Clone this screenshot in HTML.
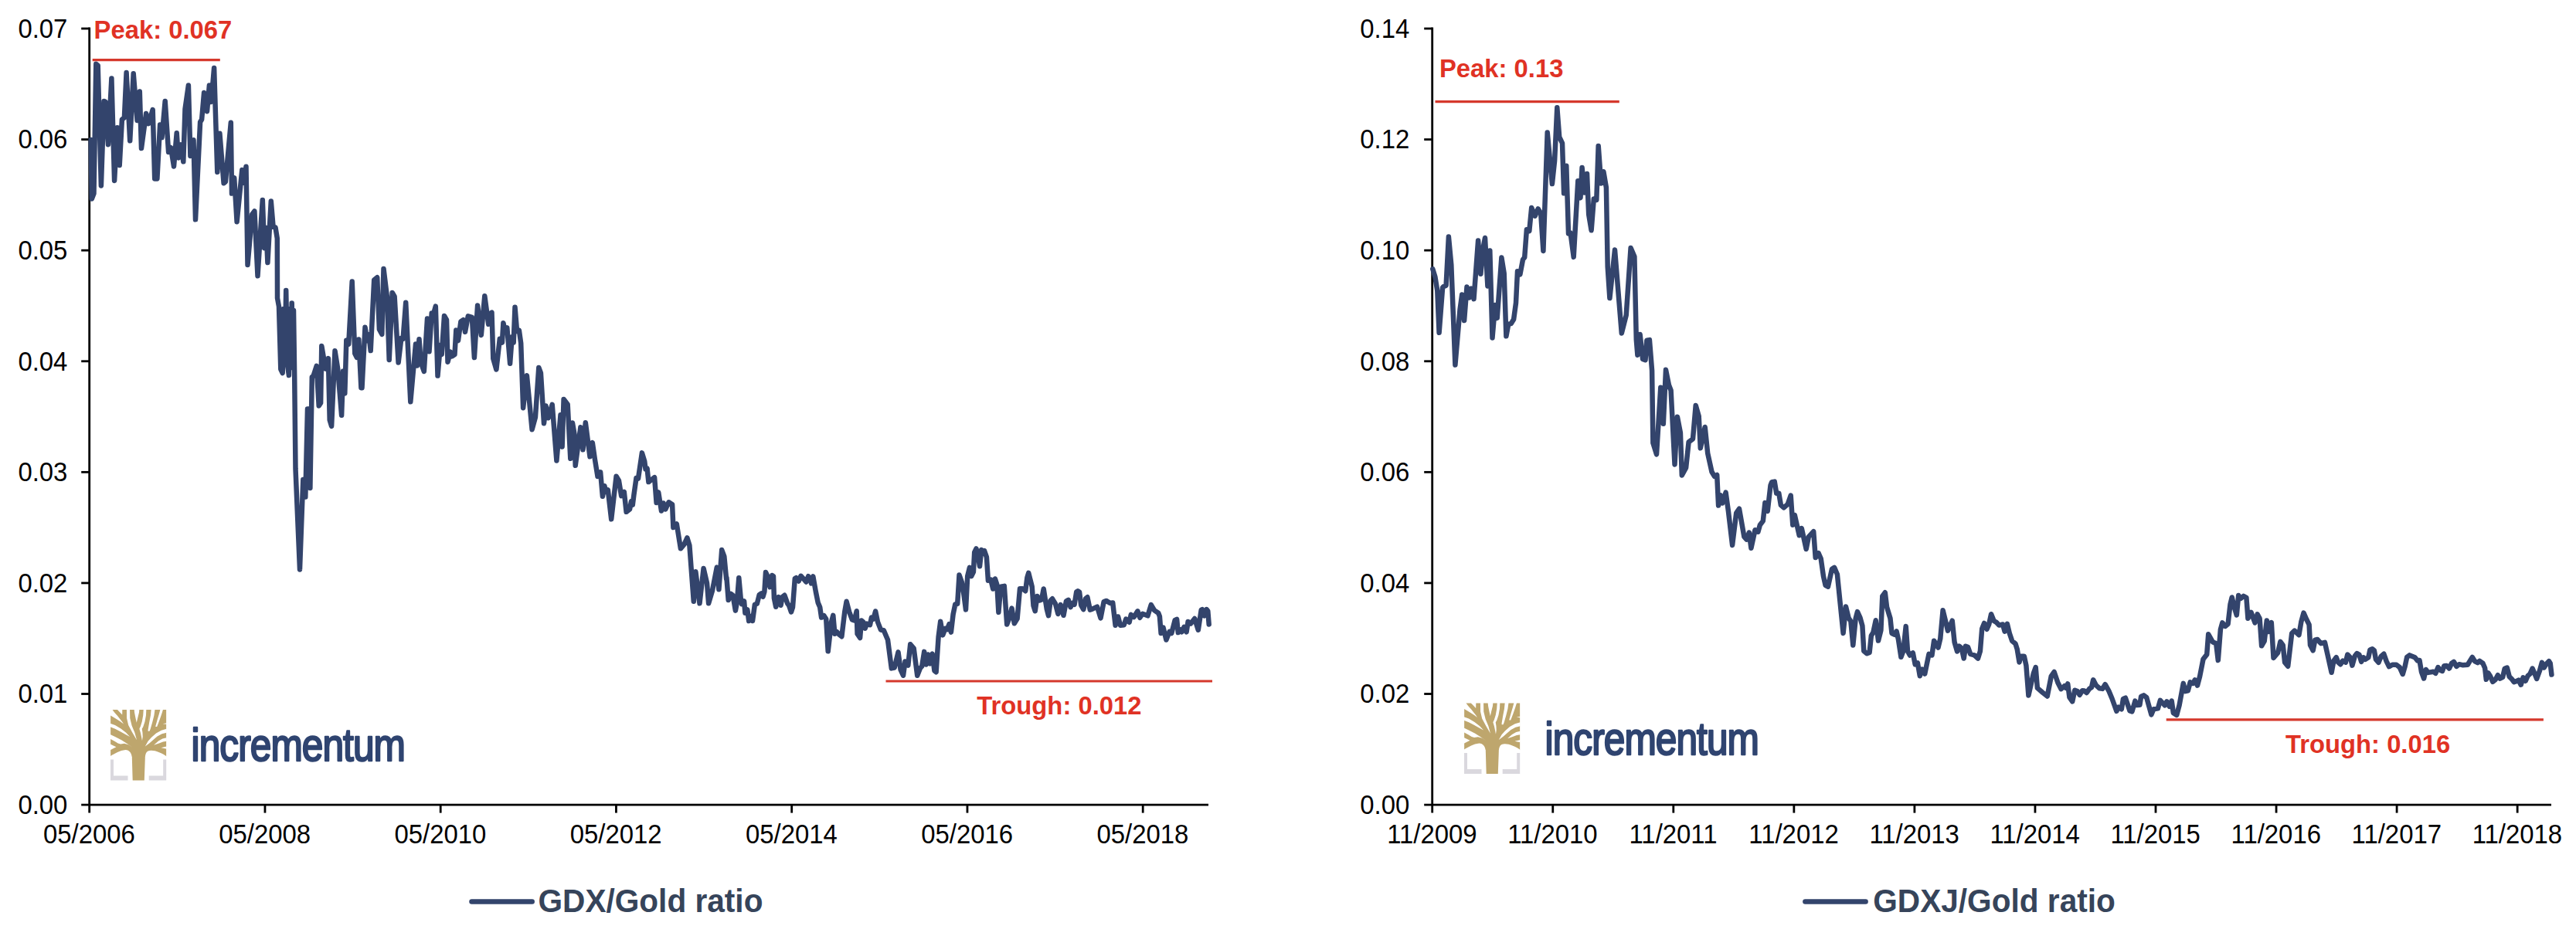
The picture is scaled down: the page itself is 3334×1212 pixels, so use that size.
<!DOCTYPE html>
<html lang="en"><head><meta charset="utf-8"><title>GDX/Gold and GDXJ/Gold ratio</title>
<style>html,body{margin:0;padding:0;background:#fff}body{width:3334px;height:1212px;overflow:hidden}svg{display:block}text{font-family:"Liberation Sans",sans-serif}</style>
</head><body>
<svg width="3334" height="1212" viewBox="0 0 3334 1212">
<rect width="3334" height="1212" fill="#fff"/>
<g stroke="#000" stroke-width="2.8" fill="none">
<path d="M115.7,35.6 V1052.6"/>
<path d="M105.2,1042.1 H1564"/>
<path d="M105.2,898.514 H115.7"/>
<path d="M105.2,754.929 H115.7"/>
<path d="M105.2,611.343 H115.7"/>
<path d="M105.2,467.757 H115.7"/>
<path d="M105.2,324.171 H115.7"/>
<path d="M105.2,180.586 H115.7"/>
<path d="M105.2,37 H115.7"/>
<path d="M342.95,1042.1 V1052.6"/>
<path d="M570.2,1042.1 V1052.6"/>
<path d="M797.45,1042.1 V1052.6"/>
<path d="M1024.7,1042.1 V1052.6"/>
<path d="M1251.95,1042.1 V1052.6"/>
<path d="M1479.2,1042.1 V1052.6"/>
</g>
<g font-size="32.9" fill="#000">
<text transform="translate(87.4,1054) scale(1,1.045)" text-anchor="end">0.00</text>
<text transform="translate(87.4,910.414) scale(1,1.045)" text-anchor="end">0.01</text>
<text transform="translate(87.4,766.829) scale(1,1.045)" text-anchor="end">0.02</text>
<text transform="translate(87.4,623.243) scale(1,1.045)" text-anchor="end">0.03</text>
<text transform="translate(87.4,479.657) scale(1,1.045)" text-anchor="end">0.04</text>
<text transform="translate(87.4,336.071) scale(1,1.045)" text-anchor="end">0.05</text>
<text transform="translate(87.4,192.486) scale(1,1.045)" text-anchor="end">0.06</text>
<text transform="translate(87.4,48.9) scale(1,1.045)" text-anchor="end">0.07</text>
<text transform="translate(115.4,1092.3) scale(1,1.04)" text-anchor="middle">05/2006</text>
<text transform="translate(342.65,1092.3) scale(1,1.04)" text-anchor="middle">05/2008</text>
<text transform="translate(569.9,1092.3) scale(1,1.04)" text-anchor="middle">05/2010</text>
<text transform="translate(797.15,1092.3) scale(1,1.04)" text-anchor="middle">05/2012</text>
<text transform="translate(1024.4,1092.3) scale(1,1.04)" text-anchor="middle">05/2014</text>
<text transform="translate(1251.65,1092.3) scale(1,1.04)" text-anchor="middle">05/2016</text>
<text transform="translate(1478.9,1092.3) scale(1,1.04)" text-anchor="middle">05/2018</text>
</g>
<g stroke="#000" stroke-width="2.8" fill="none">
<path d="M1853.7,35.6 V1052.6"/>
<path d="M1843.2,1042.1 H3302"/>
<path d="M1843.2,898.514 H1853.7"/>
<path d="M1843.2,754.929 H1853.7"/>
<path d="M1843.2,611.343 H1853.7"/>
<path d="M1843.2,467.757 H1853.7"/>
<path d="M1843.2,324.171 H1853.7"/>
<path d="M1843.2,180.586 H1853.7"/>
<path d="M1843.2,37 H1853.7"/>
<path d="M2009.75,1042.1 V1052.6"/>
<path d="M2165.8,1042.1 V1052.6"/>
<path d="M2321.85,1042.1 V1052.6"/>
<path d="M2477.9,1042.1 V1052.6"/>
<path d="M2633.95,1042.1 V1052.6"/>
<path d="M2790,1042.1 V1052.6"/>
<path d="M2946.05,1042.1 V1052.6"/>
<path d="M3102.1,1042.1 V1052.6"/>
<path d="M3258.15,1042.1 V1052.6"/>
</g>
<g font-size="32.9" fill="#000">
<text transform="translate(1824.3,1054) scale(1,1.045)" text-anchor="end">0.00</text>
<text transform="translate(1824.3,910.414) scale(1,1.045)" text-anchor="end">0.02</text>
<text transform="translate(1824.3,766.829) scale(1,1.045)" text-anchor="end">0.04</text>
<text transform="translate(1824.3,623.243) scale(1,1.045)" text-anchor="end">0.06</text>
<text transform="translate(1824.3,479.657) scale(1,1.045)" text-anchor="end">0.08</text>
<text transform="translate(1824.3,336.071) scale(1,1.045)" text-anchor="end">0.10</text>
<text transform="translate(1824.3,192.486) scale(1,1.045)" text-anchor="end">0.12</text>
<text transform="translate(1824.3,48.9) scale(1,1.045)" text-anchor="end">0.14</text>
<text transform="translate(1853.4,1092.3) scale(1,1.04)" text-anchor="middle">11/2009</text>
<text transform="translate(2009.45,1092.3) scale(1,1.04)" text-anchor="middle">11/2010</text>
<text transform="translate(2165.5,1092.3) scale(1,1.04)" text-anchor="middle">11/2011</text>
<text transform="translate(2321.55,1092.3) scale(1,1.04)" text-anchor="middle">11/2012</text>
<text transform="translate(2477.6,1092.3) scale(1,1.04)" text-anchor="middle">11/2013</text>
<text transform="translate(2633.65,1092.3) scale(1,1.04)" text-anchor="middle">11/2014</text>
<text transform="translate(2789.7,1092.3) scale(1,1.04)" text-anchor="middle">11/2015</text>
<text transform="translate(2945.75,1092.3) scale(1,1.04)" text-anchor="middle">11/2016</text>
<text transform="translate(3101.8,1092.3) scale(1,1.04)" text-anchor="middle">11/2017</text>
<text transform="translate(3257.85,1092.3) scale(1,1.04)" text-anchor="middle">11/2018</text>
</g>
<g transform="translate(0,0)">
<path d="M143,983.5v27h22.5v-6h-18.5v-21z" fill="#dad8de"/>
<path d="M215.2,983.5v27h-22.5v-6h18.5v-21z" fill="#dad8de"/>
<g transform="translate(140,915) scale(0.074766)">
<path d="M42,52H1005V870H640C636,1000 630,1150 626,1277H424C420,1150 416,1000 412,870H42Z" fill="#bea66d"/>
<g fill="#fff">
<path d="M35,40H75V52C120,120 200,190 268,300C200,250 120,195 35,150Z"/>
<path d="M160,45H245V52L243,140L160,52Z"/>
<path d="M320,45H375L378,200L410,330L460,450L495,578L420,450L350,320L322,200Z"/>
<path d="M450,45H540L535,100L510,200L492,278L475,200L455,100Z"/>
<path d="M612,45H660L655,150L635,260L605,350L585,385L595,450L598,520L588,592L575,520L560,450L540,385L560,340L585,260L605,150Z"/>
<path d="M745,45H810L795,150L765,270L730,390L715,425H690V400L710,280L735,150Z"/>
<path d="M903,45H952L925,130L890,230L860,310L845,348H820L822,330L850,230L880,130Z"/>
<path d="M1012,283V303L945,297Z"/>
<path d="M1012,385V450L930,470L850,515L780,575L720,630L640,688L690,600L750,530L830,460L920,410Z"/>
<path d="M1012,540V600L950,610L880,635L790,665L870,595L940,555Z"/>
<path d="M1012,690V732L915,712Z"/>
<path d="M1012,875V862C900,790 780,740 690,768C655,785 642,830 640,875Z"/>
<path d="M35,290V350L120,385L210,430L300,480L375,522L310,450L220,380L120,320Z"/>
<path d="M35,480V560L110,600L170,635L215,650L280,640L350,660L420,705L340,650L230,580L120,520Z"/>
<path d="M35,650V752L140,700Z"/>
<path d="M35,875V860C120,810 200,760 300,750C370,755 400,800 412,875Z"/>
</g>
</g>

<text x="0" y="0" transform="translate(247.6,985.4) scale(0.848,1)" font-size="58.5" fill="#2f4470" stroke="#2f4470" stroke-width="2.4" stroke-linejoin="round" letter-spacing="-1.1">incrementum</text>
</g>
<g transform="translate(1752,-8.5)">
<path d="M143,983.5v27h22.5v-6h-18.5v-21z" fill="#dad8de"/>
<path d="M215.2,983.5v27h-22.5v-6h18.5v-21z" fill="#dad8de"/>
<g transform="translate(140,915) scale(0.074766)">
<path d="M42,52H1005V870H640C636,1000 630,1150 626,1277H424C420,1150 416,1000 412,870H42Z" fill="#bea66d"/>
<g fill="#fff">
<path d="M35,40H75V52C120,120 200,190 268,300C200,250 120,195 35,150Z"/>
<path d="M160,45H245V52L243,140L160,52Z"/>
<path d="M320,45H375L378,200L410,330L460,450L495,578L420,450L350,320L322,200Z"/>
<path d="M450,45H540L535,100L510,200L492,278L475,200L455,100Z"/>
<path d="M612,45H660L655,150L635,260L605,350L585,385L595,450L598,520L588,592L575,520L560,450L540,385L560,340L585,260L605,150Z"/>
<path d="M745,45H810L795,150L765,270L730,390L715,425H690V400L710,280L735,150Z"/>
<path d="M903,45H952L925,130L890,230L860,310L845,348H820L822,330L850,230L880,130Z"/>
<path d="M1012,283V303L945,297Z"/>
<path d="M1012,385V450L930,470L850,515L780,575L720,630L640,688L690,600L750,530L830,460L920,410Z"/>
<path d="M1012,540V600L950,610L880,635L790,665L870,595L940,555Z"/>
<path d="M1012,690V732L915,712Z"/>
<path d="M1012,875V862C900,790 780,740 690,768C655,785 642,830 640,875Z"/>
<path d="M35,290V350L120,385L210,430L300,480L375,522L310,450L220,380L120,320Z"/>
<path d="M35,480V560L110,600L170,635L215,650L280,640L350,660L420,705L340,650L230,580L120,520Z"/>
<path d="M35,650V752L140,700Z"/>
<path d="M35,875V860C120,810 200,760 300,750C370,755 400,800 412,875Z"/>
</g>
</g>

<text x="0" y="0" transform="translate(247.6,985.4) scale(0.848,1)" font-size="58.5" fill="#2f4470" stroke="#2f4470" stroke-width="2.4" stroke-linejoin="round" letter-spacing="-1.1">incrementum</text>
</g>
<g fill="none" stroke="#33446c" stroke-width="6.5" stroke-linejoin="round" stroke-linecap="round">
<polyline points="117.6,181.1 118.8,257.5 121.5,250.6 124.3,82.8 126.7,84.7 130.9,240.5 134.6,130.9 136.5,131.9 140,187.2 144.4,101.4 148.1,233.9 151.8,165.3 154.7,214 157.9,154.8 160.9,152.3 163.6,94.1 168.2,182.3 172.7,95.3 177.6,156 180.8,118.6 183,192.1 189.1,146.9 192.3,160.2 197.7,142 200.2,231.4 203.4,231.4 207.1,161.6 209.5,178.1 213.7,130.9 218.1,197 221.1,191.1 225,215.5 228.7,172.2 230.9,204.4 234.1,187.4 237.3,209.3 239.5,141.3 243.9,110.5 246.4,201.9 250.5,181.3 253,284.3 259.1,158 261.1,154.8 264.1,119.9 268,144.2 270.9,110.5 273.4,131.9 277.1,87.9 281.3,222.8 284.4,172.7 289.6,237.3 291.9,235.3 298.8,158.8 300,250.6 303.2,230.1 306.6,287.2 313.3,220 315.3,236.7 318.5,215.7 320.5,342.9 326.2,277.7 329.4,273.4 333.5,357.3 339.8,258.9 342.1,321.2 344.4,295 346.4,340 350.8,260.4 353.6,293.8 356.5,294.4 358.8,308.8 359,386 361,397 363.3,478 365.7,483 367,400 368.5,472 370.2,376 372,472 373.9,486 375.4,400 376.6,476 377.7,392.4 379.2,472 380,402 381.2,487 382.5,607 388,737.4 392.3,621 395.3,643.6 398,529.5 399.8,529.5 401.4,632 403.8,488 405.5,487 409.7,473.9 412.7,525.5 415.1,521.8 416.3,448.1 421.3,477.6 424.9,464.1 426.7,543.9 429.1,551.8 433.5,454.3 437.2,477.6 442.1,537.8 444.1,480.5 446.3,509.5 448.3,440.7 451.2,445.7 455.7,364.6 459.3,457.9 461.8,462.9 464.3,439.5 467.4,502.2 468.5,502.3 472.5,423.8 475.2,441.1 477.4,433.2 479.7,454.1 484.2,362.5 488.2,359.2 490.9,426.5 494.3,432.8 496.5,347.9 501,385 503.7,466 507.7,378.9 510.6,383.8 515.6,469.6 519.4,437.7 521.6,438.8 525.2,391.7 531.3,520.3 538,445.5 539.8,473.6 542.5,439.3 544.7,469.1 548.8,481 553,412.6 555.5,455.2 558.7,405.6 560.5,408.5 563.8,396.6 566.5,486.6 569.9,446.7 571.7,459 575,409 578,414.1 579.5,468.7 582.9,455.6 585.1,461.3 588.5,459 590.3,427.6 593,441.1 596.4,416.4 599.7,414.1 602,429.8 605.8,409.4 610.9,410.8 613.9,463 618.1,395.5 622.8,433.9 627.3,383.2 632.2,419.7 634.2,406.4 636.5,404.6 638.3,464.4 642.4,478.5 646.8,438.7 649.9,443.6 651.4,418.2 653.7,429 656.3,424.4 660.1,470.8 662.7,436.2 664.7,443.6 666.5,397.7 669.1,429 671.9,427.9 674.2,444.4 677.1,528.2 681.9,486.2 688.6,556.2 692.9,540.5 697.3,475.9 699.9,482.8 704,548.2 706.5,525.6 709.6,541.3 714.7,523.8 720.4,596.4 725.5,537.2 727.6,578.5 729.6,516.9 734.7,523.8 738.3,593.8 740.9,547.4 743.5,562.3 744.7,602.8 751.4,553.3 754.5,582.3 757.8,547.2 763.5,591.3 766.8,573.1 769.9,594.6 773.5,616.9 777.1,611.3 779.9,642.8 782.4,629.2 784.2,636.9 786.8,634.4 791.2,672.3 797.6,616.7 800.9,622.1 804.2,642.1 807.8,636.9 810.6,662.8 815,659.5 817.1,649 818.8,653.8 820.4,640.8 823.5,619 826,619.7 830.9,586.4 834.2,597.2 835.5,607.4 837.6,606.7 839.4,624.1 842.7,621.5 847.1,618.2 849.6,651 852.2,637.4 856,661.5 858.6,651.5 861.2,659.5 865.5,650.3 870.1,653.3 871.4,683.1 875.8,678.5 880.9,710.3 885.5,704.9 889.4,696.4 892.4,706.2 897.8,778.7 900.4,740.3 905.5,781.3 910.6,735.9 915,754.9 917.1,781.3 921.9,765.1 927.8,734.6 930.4,763.3 934.2,712.1 937.3,720.3 940.1,749.7 940.4,747.7 942.7,777.1 945.8,768.8 948.5,770.8 951.9,790.6 953.8,780.4 956.3,748.3 958.7,774.6 960,782.3 963.1,778.5 964.4,793.8 967.3,789.4 969.2,804 972.1,798.1 974,804 976.9,782.7 979.8,781.7 982.7,770.2 985.6,768.3 987.5,772.7 989.4,766 991,741 993.3,745.8 996.5,760.2 999.2,745 1001,746.2 1001.9,774.6 1004.2,785.8 1007.7,773.1 1010.6,783.8 1012.5,773.1 1015.4,770.8 1019.2,781.3 1021.2,784.2 1024,792.5 1026,786.2 1028.8,749.2 1030.4,748.1 1033.7,752.5 1036.5,745.8 1040.4,750 1043.3,753.5 1046.2,746.2 1049,751.5 1050,755.4 1052.3,746.3 1055.8,766 1058.7,780.4 1061.2,786.2 1063.1,799.6 1066.3,797.1 1069.2,801.5 1071.7,843.3 1076,805.4 1078.3,796.9 1080.4,820.8 1083.1,818.3 1086.2,821.7 1089.4,824.2 1093.3,791.9 1095.6,778.7 1099,791.9 1102.9,802.5 1105.8,803.5 1108.7,791.2 1109.6,820.8 1113.1,826 1115,803.5 1117.3,805.4 1119.6,813.7 1122.1,807.7 1126,809.2 1127.9,799.6 1130.4,801.5 1133.1,791.5 1136,805.4 1140,815.6 1143.8,816.3 1149,828.5 1153.8,865.4 1157.7,864.6 1162.5,844.4 1165.6,867.2 1169,874.7 1171.5,856.5 1175.3,861.6 1178.2,834.3 1182.7,839.7 1185.4,860.5 1187.2,874.7 1191,865 1193.2,862.8 1196.2,843.9 1198.8,860.5 1201.1,847.5 1203.8,859.4 1206.7,846.6 1209.4,868.4 1211.6,870.2 1214.6,824.6 1217.2,804.7 1220.2,822.4 1223.5,813.9 1225.8,815 1228.5,808.2 1230.9,818.6 1233.6,795.5 1236.3,782.4 1239.2,782 1241.5,744.5 1244.8,753.9 1247.1,767.4 1250,789.4 1252.2,746.1 1254.9,734.9 1257.2,746.1 1259.9,740.5 1261.2,715.1 1263.5,710.4 1266.2,722.5 1268,733.3 1270.2,712 1272,715.1 1274,713.1 1276.9,721.4 1278.9,751.7 1282.3,750.6 1285.2,762.5 1287.9,749.5 1290.4,757.3 1292.4,792.8 1295.3,759.6 1299.8,758.9 1303.2,808.5 1306.5,799.9 1309.5,787.6 1312.8,807.3 1316.6,801.1 1320,762.2 1323.4,762.2 1327.2,765.2 1329.4,747.9 1331.2,741.8 1335.7,759.6 1337.5,784.2 1339.7,791.2 1342.4,771.9 1345.4,777.5 1348.1,776.4 1350.7,762.5 1354.8,788.7 1357,797.2 1359.7,777.5 1362,775.3 1366,782 1369.4,795 1372.7,783.1 1376.5,796.8 1379.9,778.6 1382.8,776.8 1385.5,786.2 1388.1,781 1390.6,782.7 1393.2,766.5 1394.9,765.3 1397.1,766.8 1399.2,783.6 1402.3,789.2 1405.2,775 1407.4,773.3 1410.8,789.6 1413.7,788.7 1420,785.6 1424.5,800.3 1428.6,779.3 1431.7,777.9 1436.8,781 1440.2,780.5 1443.6,809.7 1445.3,799 1447.1,798.5 1450,809.7 1454.7,809.2 1457.3,801.5 1461.6,805.8 1463.8,795.9 1467.6,799 1472.4,791.3 1475.3,799.8 1478.7,794.7 1485.5,797.3 1489.8,783.2 1494.1,790.4 1499.2,793.8 1500.9,798.1 1502.6,820 1505.5,812.6 1509.4,828.5 1513.7,817.8 1516.3,820 1520.6,803.2 1523.1,801.9 1524.8,819.1 1527.4,815.2 1529.4,818.3 1532.5,811.8 1535.6,818.3 1537.6,805 1541.1,807.5 1546.2,801 1550.8,815.7 1554.7,789.9 1556.1,789.1 1558.7,797.3 1561.6,789.1 1563.3,791.3 1564.7,808.4"/>
<polyline points="1854.3,348.4 1857.4,358.5 1860.3,376.5 1862.6,430.8 1867.1,372.4 1868.6,370.9 1871.6,369.7 1874.9,306.5 1878.3,342.8 1883.4,472.5 1889.5,401.2 1892.2,381.4 1895.1,415.1 1898.5,371.5 1901.4,385.5 1904.1,373.6 1907.5,387.2 1913.1,311.6 1916.4,354.7 1919.3,322.6 1922,308 1925.4,370.4 1928.3,324.4 1931.5,437.5 1935.1,394.9 1937.7,411.9 1943.4,333.4 1946.7,354 1949.4,435.3 1952.3,419.6 1955.7,419.1 1959.1,413.5 1962,392.2 1964,351.3 1967.4,355.2 1971,336.1 1973.2,333.2 1975.9,297.3 1979.3,299.1 1982.2,269 1986.7,279.7 1990.7,270.4 1994.2,276.2 1997.4,324.9 2002.7,171.5 2008.9,238.1 2012.1,208.1 2015.3,139.2 2018.2,177.4 2022,185.4 2024.1,250.3 2027.3,214.8 2030,302.4 2032.6,301.6 2036.7,332.9 2042.3,234.3 2045.5,256.2 2047.6,217 2050.8,249.5 2054,225 2056.2,277.6 2059.6,298.2 2062.8,257.6 2066.3,258.9 2068.7,188.9 2072.2,237.5 2075.4,222.3 2078.9,242.9 2080.7,345.5 2083.4,386.1 2090,323.6 2098.8,431.5 2104.7,408.3 2110.6,321 2115.4,332.2 2117.8,440.1 2119.4,459.8 2122.6,432.9 2126.1,464.9 2129.5,466.2 2131.4,440.6 2134.9,440.1 2138.1,480.1 2139.4,573.6 2144,588.3 2149.3,501.8 2152.8,548.8 2156,478.8 2160,498.8 2162.6,505.5 2167.5,601.4 2170.9,539.7 2174.9,560.3 2176.8,615.5 2182.1,605.7 2185.6,572.3 2191,568.3 2194.7,525 2198.7,538.9 2200.8,580.3 2206.7,553 2210.2,587 2215.5,611 2219,616.9 2222.2,615 2224.1,654.6 2226.7,641.3 2229.2,651.5 2233.6,637.7 2236.9,661.8 2242.1,705.9 2247.2,664.4 2251,658.7 2257.4,695.1 2260.5,698.5 2263.8,689.5 2266.4,709.7 2271.5,686.2 2275.4,688.7 2277.9,679.7 2281.8,674.6 2284.4,651 2287.7,661.8 2291.5,628.5 2293.3,624.1 2296.7,623.6 2299.2,638.7 2302.3,638.7 2304.9,654.1 2308.7,657.4 2313.8,652.8 2317.7,641.5 2320.3,679.7 2322.8,666.9 2328.7,693.3 2331.8,684.1 2337.7,711 2340.8,695.1 2347.2,688.2 2349.7,722.1 2353.6,716.2 2356.7,723.3 2360,746.4 2362.6,757.9 2365.9,759.7 2371,736.7 2374.1,734.9 2377.9,743.8 2385.6,820 2389,785.6 2392.6,800.3 2395.4,804.6 2398.3,835.4 2401.7,800.8 2404,792.1 2407.5,799.8 2410.4,810.4 2412.3,843.1 2416.2,846.3 2419.6,845 2421.9,822.9 2424.4,819 2427.7,803.3 2431,829.6 2434.4,816.2 2436.3,771.9 2439.8,767.3 2442.1,786.3 2446.5,800.8 2448.5,820 2452.3,821.9 2454.6,817.5 2456.9,827.7 2460.4,850.8 2463.3,843.1 2466.7,811 2469,843.1 2471.9,848.5 2475.8,845.4 2478.7,860.4 2481.9,858.5 2484.8,875.2 2487.7,866.5 2491.2,872.5 2496.5,846.9 2500.4,848.5 2503.1,829.8 2508.5,838.5 2511.3,826.7 2514.6,790.2 2518.1,804.6 2521,816.7 2523.8,810.4 2526.7,803.7 2529.6,831.5 2533.1,843.5 2535.8,836.7 2538.8,839.2 2541.7,852.5 2544,836.7 2546.9,837.7 2550.2,846.9 2555.6,848.5 2560,852.5 2562.9,843.1 2565.2,814.2 2568.1,806.9 2571.5,814.8 2574.2,808.5 2577.1,795.2 2580.6,804 2583.5,805.6 2587.3,809.6 2592.1,808.5 2594.6,817.7 2597.9,807.9 2600.8,820 2604.2,830 2608.5,833.5 2610.7,840.4 2613.5,857.5 2615.5,849.8 2619.8,849.8 2622.4,861.8 2625.4,900.6 2631.8,872.1 2634.7,864 2636.9,890.9 2643.7,896.8 2649.7,901.5 2654.8,875.5 2658.6,870 2663.4,884 2667.6,892.2 2671.9,888.3 2674,890.9 2676.2,885.4 2678.4,902.8 2682.2,908.3 2685.3,893.8 2688.7,895.1 2691.6,899.9 2695,894.3 2697.6,894.6 2700.6,897 2704.4,891.7 2707,890 2709.2,880.3 2712.9,887.4 2717.2,891.2 2721.2,891.9 2724.6,886.2 2729.2,894.3 2733.5,904.5 2739.4,920.8 2742,915.6 2745.8,918.2 2748,904.9 2750.9,903.7 2756.5,920.4 2759.4,921.3 2763.4,907.6 2765.9,913.1 2769.4,912.7 2771.1,902 2774.5,900.4 2778.2,903.2 2784.4,925.4 2787.3,918.2 2792.9,917.4 2795.9,906.8 2801.8,913.4 2804.4,908.3 2807.8,914.8 2810.7,907.6 2812.9,923.3 2817.2,925.9 2820.6,913.1 2825.8,884.9 2828.3,895.1 2831.8,894.3 2834.7,883.4 2838.3,885 2840.8,880.3 2844,887.6 2847.1,875.9 2851.5,853.5 2856.2,847.4 2858.2,821.3 2863.7,831.2 2868.2,833.2 2870.8,855 2873.9,815 2876.3,806.4 2880,810.9 2883.6,807.9 2886.5,782.5 2888.7,773.5 2892.1,787.6 2894.8,796.5 2897.2,770.9 2900.3,774.8 2903.7,771.9 2907.4,773.8 2909.4,800.8 2913.5,793 2918.5,806.4 2921.6,795.3 2924.6,800.8 2927.1,836.3 2930.7,830.2 2933.8,803.4 2936.2,818 2939.8,806.2 2942.5,851.9 2948,845.4 2951.4,830.8 2954.7,835.3 2957.1,857.6 2961.2,862.7 2966.2,820 2969.7,816.6 2975.4,822.3 2978.4,804.8 2981.5,793.6 2985.1,801.8 2988.6,808.9 2990,835.3 2993.6,842.4 2996.3,828.6 2999.3,828 3003.8,833.2 3008.9,831.8 3012.9,849.5 3017.6,870.8 3020.4,855.6 3023.7,851.1 3026.1,857.6 3029.2,860.2 3032.2,855.6 3035.9,857.6 3038.3,847.6 3042,851.5 3044.4,861.7 3047.8,849.5 3050.5,846 3053.5,847.8 3056.2,856.9 3058.8,851.3 3061.4,853.8 3065.3,851.3 3067.4,841.4 3070.4,840.2 3072.8,842.2 3075,853.8 3078.5,857.8 3081.9,849.6 3085.3,846.7 3088.7,856.4 3092.1,863.2 3096.4,860.7 3101.5,860.7 3105.8,864.1 3109.7,873 3112.6,863.2 3115.2,850.8 3118.6,848.4 3125.5,851.3 3128.9,855.6 3131.5,855 3134,870.1 3137.1,878.5 3139.7,867 3142.6,870.9 3149.4,869.7 3152.3,871.8 3155.4,864.1 3158.8,868 3161,868.9 3163.4,862.2 3166.5,861.9 3169.9,865.5 3173,859 3175.9,856.9 3179.3,862.9 3182.7,860.2 3187,861.2 3193.8,860.7 3196.4,856.4 3199.8,850.9 3203.2,856.4 3206.7,858.1 3209.2,855.9 3213.5,859 3216.1,865 3217.8,879.8 3220.3,871.3 3222.9,875.2 3226.3,882.9 3229.7,880 3232.8,874.2 3235.7,878.6 3239.1,876.9 3241.7,865.8 3244.8,864.6 3247.7,876.1 3251.1,879.5 3253.7,883.1 3256.8,882.1 3259.7,880.7 3262.7,886.7 3265.6,877.3 3268.7,881.7 3271.6,875.2 3274.5,872.6 3277.6,865.5 3281,873.5 3283.2,879 3287,868.4 3289.9,857.8 3292.6,864.6 3295.6,859.8 3299,856.1 3300.7,859 3302.4,873.5"/>
<path d="M610.5,1167.5H688.7"/>
<path d="M2336.4,1167.5H2414.6"/>
</g>
<g stroke="#d5382c" stroke-width="3.2" fill="none">
<path d="M119.7,77.6H284.8"/>
<path d="M1146.5,882H1569"/>
<path d="M1857.5,131.6H2095.8"/>
<path d="M2803.7,931.9H3291.9"/>
</g>
<g font-size="32.8" font-weight="bold" fill="#e03224">
<text transform="translate(121.6,49.5) scale(1,1.025)">Peak: 0.067</text>
<text transform="translate(1264.3,924.9) scale(1,1.025)">Trough: 0.012</text>
<text transform="translate(1863,99.9) scale(1,1.025)">Peak: 0.13</text>
<text transform="translate(2958,974.7) scale(1,1.025)">Trough: 0.016</text>
</g>
<g font-size="40.6" font-weight="bold" fill="#36445a">
<text transform="translate(696.5,1180.9) scale(1,1.054)">GDX/Gold ratio</text>
<text transform="translate(2424.3,1180.9) scale(1,1.054)">GDXJ/Gold ratio</text>
</g>
</svg>
</body></html>
